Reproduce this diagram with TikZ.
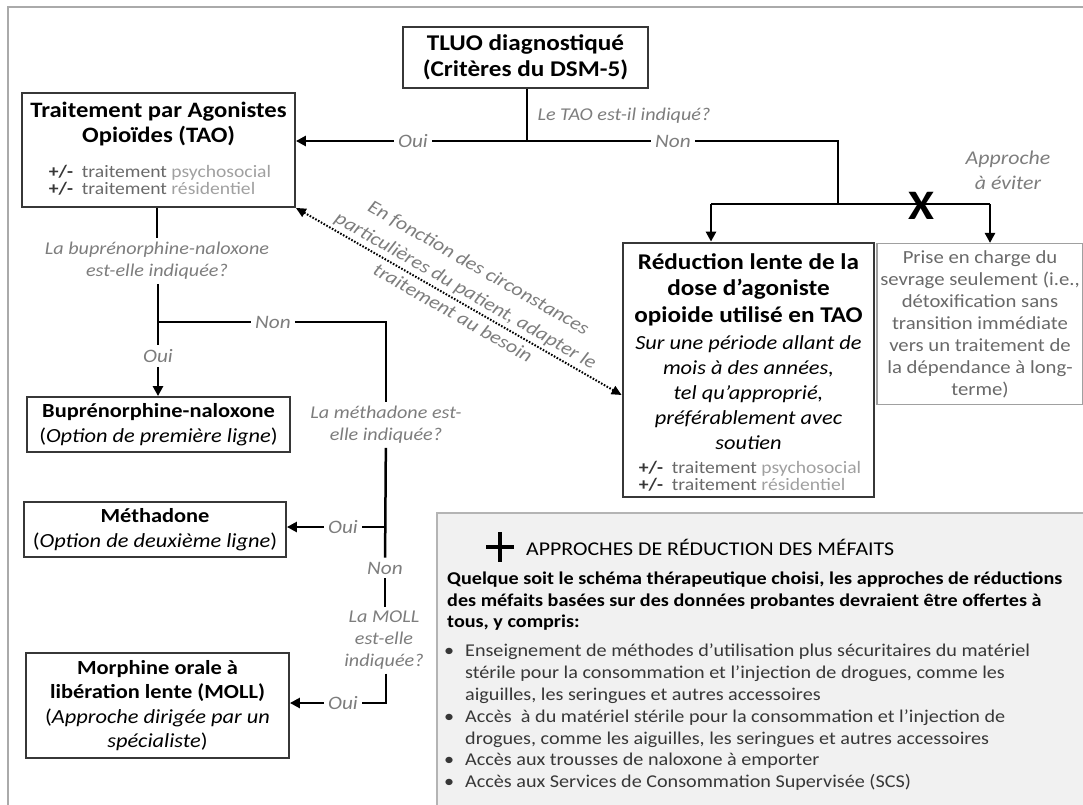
\documentclass[tikz,border=0pt]{standalone}
\usepackage{fontspec}
\setmainfont{Carlito}[FakeStretch=1.12]
\usetikzlibrary{arrows.meta,calc}

\definecolor{lblgray}{RGB}{125,125,125}
\definecolor{midgray}{RGB}{105,105,105}
\definecolor{ltgray}{RGB}{160,160,160}
\definecolor{framegray}{RGB}{170,170,170}
\definecolor{boxgray}{RGB}{55,55,55}
\definecolor{harmfill}{RGB}{241,241,241}
\definecolor{harmline}{RGB}{180,180,180}

\newcommand{\pmline}[1]{\textbf{+/-}\ \ {\color{midgray}traitement} {\color{ltgray}#1}}
\newcommand{\bul}{\makebox[21pt][l]{\textbullet}}
\newcommand{\ind}{\hspace*{21pt}}

\begin{document}
\begin{tikzpicture}[x=1pt,y=1pt,yscale=-1,xscale=1,
  box/.style={draw=boxgray,line width=1.8,align=center,inner sep=0pt},
  lbl/.style={text=lblgray,font=\fontsize{19}{22}\selectfont\itshape,inner sep=4pt},
  ques/.style={text=lblgray,align=center,font=\fontsize{18}{22}\selectfont\itshape,inner sep=4pt},
  conn/.style={line width=2.5},
  arr/.style={conn,-{Triangle[length=10pt,width=10pt]}},
  pm/.style={align=left,font=\fontsize{17.5}{17}\selectfont,text=boxgray,inner sep=0pt}]
\useasboundingbox (0,0) rectangle (1083,804);

%Frame
\draw [color=framegray,line width=2] (8,7) rectangle (1100,820);
%Shape: Rectangle (harm reduction)
\draw [color=harmline,fill=harmfill,line width=1.2] (437,513) rectangle (1100,820);

%Boxes
\node [box,minimum width=245,minimum height=61,font=\fontsize{22.5}{26}\selectfont\bfseries] (tluo) at (525.5,57.5) {TLUO diagnostiqué\\(Critères du DSM-5)};
\node [box,minimum width=273,minimum height=114] (tao) at (158.5,150) {};
\node [box,minimum width=263,minimum height=55,font=\fontsize{20}{25.5}\selectfont] (bup) at (158.5,424.5) {\textbf{Buprénorphine-naloxone}\\(\textit{Option de première ligne})};
\node [box,minimum width=262,minimum height=55,font=\fontsize{20}{25.5}\selectfont] (metha) at (155,529.5) {\textbf{Méthadone}\\(\textit{Option de deuxième ligne})};
\node [box,minimum width=263,minimum height=105,font=\fontsize{20}{24.5}\selectfont] (moll) at (157.5,705.5) {\textbf{Morphine orale à}\\\textbf{libération lente (MOLL)}\\(\textit{Approche dirigée par un}\\\textit{spécialiste})};
\node [box,line width=2.8,minimum width=251,minimum height=254] (red) at (748.5,370) {};
\node [box,draw=ltgray,line width=1.2,minimum width=206,minimum height=161,text=midgray,font=\fontsize{18.5}{22}\selectfont] (prise) at (980,324) {Prise en charge du\\sevrage seulement (i.e.,\\détoxification sans\\transition immédiate\\vers un traitement de\\la dépendance à long-\\terme)};

% Text Node
\node [align=center,font=\fontsize{22}{25}\selectfont\bfseries] (taohead) at (158.5,124) {Traitement par Agonistes\\Opioïdes (TAO)};
\node [pm] (taopm) at (160,180.5) {\pmline{psychosocial}\\\pmline{résidentiel}};
\node [align=center,font=\fontsize{22.5}{26.5}\selectfont\bfseries] (redhead) at (748.5,289.5) {Réduction lente de la\\dose d’agoniste\\opioide utilisé en TAO};
\node [align=center,font=\fontsize{20}{25}\selectfont\itshape] (redtxt) at (748.5,392.5) {Sur une période allant de\\mois à des années,\\tel qu’approprié,\\préférablement avec\\soutien};
\node [pm] (redpm) at (750,476.5) {\pmline{psychosocial}\\\pmline{résidentiel}};

% Labels
\node [ques] (q1) at (624,116) {Le TAO est-il indiqué?};
\node [lbl] (oui1) at (413,141) {Oui};
\node [lbl] (non1) at (673,141) {Non};
\node [text=lblgray,align=center,font=\fontsize{19.5}{25}\selectfont\itshape] (avoid) at (1008,170) {Approche\\à éviter};
\node [font=\fontsize{42}{42}\selectfont\bfseries,inner sep=0pt] (cross) at (921,206) {X};
\node [ques] (q2) at (157,261) {La buprénorphine-naloxone\\est-elle indiquée?};
\node [lbl] (non2) at (273,322) {Non};
\node [lbl] (oui2) at (158,356) {Oui};
\node [ques] (q3) at (386,425) {La méthadone est-\\elle indiquée?};
\node [lbl] (oui3) at (343,527) {Oui};
\node [lbl] (non3) at (385,568) {Non};
\node [ques] (q4) at (384,640) {La MOLL\\est-elle\\indiquée?};
\node [lbl] (oui4) at (343,703) {Oui};
\node [text=lblgray,align=center,rotate=-29.8,font=\fontsize{19}{26}\selectfont\itshape] (adapt) at (466,290) {En fonction des circonstances\\particulières du patient, adapter le\\traitement au besoin};

%Coordinates
\coordinate (j1) at (527,141);
\coordinate (nonR) at (838,141);
\coordinate (j2) at (838,204);
\coordinate (lft) at (711,204);
\coordinate (rgt) at (990,204);
\coordinate (j3) at (158,322);
\coordinate (c3) at (386,322);
\coordinate (j4) at (386,527);
\coordinate (c4) at (386,703);
\coordinate (dA) at (tao.south east);
\coordinate (dB) at ($(red.west)+(0,25)$);

%Straight Lines
\draw [conn] (tluo.south -| j1) -- (j1);
\draw [conn] (oui1) -- (j1) -- (non1);
\draw [arr] (oui1) -- (oui1 -| tao.east);
\draw [conn] (non1) -- (nonR) -- (j2);
\draw [conn] (lft) -- (rgt);
\draw [arr] (lft) -- (lft |- red.north);
\draw [arr] (rgt) -- (rgt |- prise.north);

\draw [conn] (tao.south -| q2) -- (q2);
\draw [conn] (q2.south -| j3) -- (oui2);
\draw [arr] (oui2) -- (oui2 |- bup.north);
\draw [conn] (j3) -- (non2);
\draw [conn] (non2) -- (c3) -- (q3);
\draw [conn] (q3) -- (non3);
\draw [conn] (j4) -- (oui3);
\draw [arr] (oui3) -- (oui3 -| metha.east);
\draw [conn] (non3) -- (q4.north -| non3);
\draw [conn] (q4.south -| c4) -- (c4) -- (oui4);
\draw [arr] (oui4) -- (oui4 -| moll.east);

%Dotted arrow
\draw [line width=2,dash pattern=on 1.6pt off 1.6pt,{Triangle[length=10pt,width=9pt]}-{Triangle[length=10pt,width=9pt]}] (dA) -- (dB);

%Plus sign
\draw [line width=4] (486,547) -- (514,547) (500,532) -- (500,562);
\node [anchor=west,inner sep=0pt,font=\fontsize{19.5}{22}\selectfont] (harmhead) at (526,547) {APPROCHES DE RÉDUCTION DES MÉFAITS};
\node [anchor=north west,align=left,inner sep=0pt,font=\fontsize{18}{21.5}\selectfont\bfseries] (harmtxt) at (447,572) {Quelque soit le schéma thérapeutique choisi, les approches de réductions\\des méfaits basées sur des données probantes devraient être offertes à\\tous, y compris:};
\node [anchor=north west,align=left,inner sep=0pt,font=\fontsize{18}{21.8}\selectfont,text=boxgray] (harmlist) at (444,644) {\bul Enseignement de méthodes d’utilisation plus sécuritaires du matériel\\\ind stérile pour la consommation et l’injection de drogues, comme les\\\ind aiguilles, les seringues et autres accessoires\\\bul Accès\ \ à du matériel stérile pour la consommation et l’injection de\\\ind drogues, comme les aiguilles, les seringues et autres accessoires\\\bul Accès aux trousses de naloxone à emporter\\\bul Accès aux Services de Consommation Supervisée (SCS)};
\end{tikzpicture}
\end{document}
